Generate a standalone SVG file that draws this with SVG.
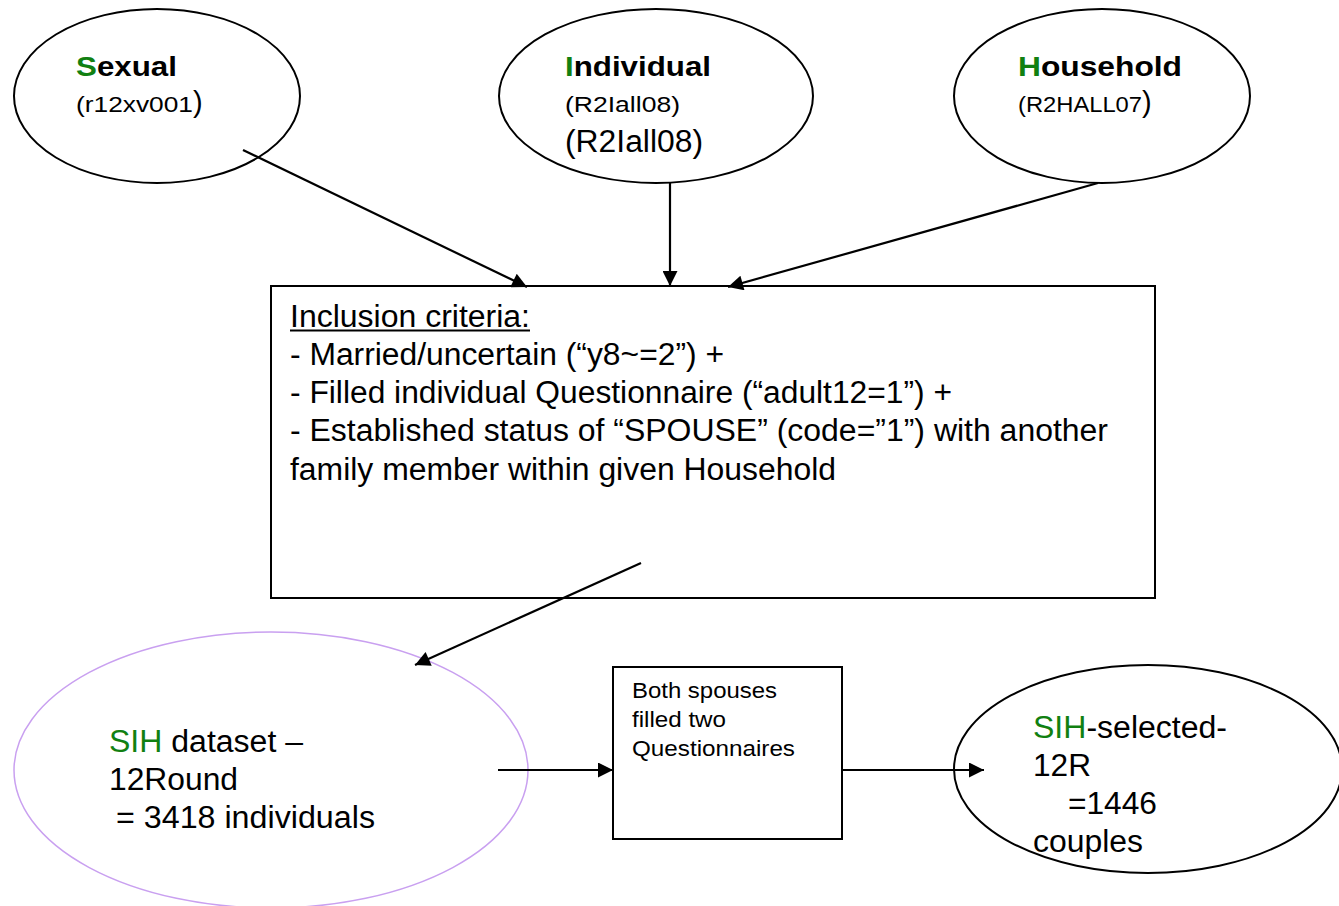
<svg xmlns="http://www.w3.org/2000/svg" width="1339" height="906" viewBox="0 0 1339 906">
<style>
text{font-family:"Liberation Sans",Arial,sans-serif;fill:#000}
.node{fill:#fff;stroke:#000;stroke-width:2}
.t{font-size:28px;font-weight:bold}
.s{font-size:22px}
.m{font-size:31px}
.ms{font-size:22px}
.g{fill:#118011}
.c line{stroke:#000;stroke-width:2.2}
</style>
<defs>
<marker id="ah" viewBox="0 0 10 10" refX="10" refY="5" markerWidth="20" markerHeight="15" markerUnits="userSpaceOnUse" orient="auto"><path d="M0,0 L10,5 L0,10 z" fill="#000"/></marker>
</defs>
<rect width="1339" height="906" fill="#fff"/>
<g id="sexual">
<ellipse class="node" cx="157" cy="96" rx="143" ry="87"/>
<text x="76" y="76" class="t" textLength="101" lengthAdjust="spacingAndGlyphs"><tspan class="g">S</tspan>exual</text>
<text x="76" y="112" class="s"><tspan textLength="117" lengthAdjust="spacingAndGlyphs">(r12xv001</tspan><tspan font-size="29">)</tspan></text>
</g>
<g id="individual">
<ellipse class="node" cx="656" cy="96" rx="157" ry="87"/>
<text x="565" y="76" class="t" textLength="146" lengthAdjust="spacingAndGlyphs"><tspan class="g">I</tspan>ndividual</text>
<text x="565" y="112" class="s" textLength="115" lengthAdjust="spacingAndGlyphs">(R2Iall08)</text>
<text x="565" y="152" class="m" textLength="138" lengthAdjust="spacingAndGlyphs">(R2Iall08)</text>
</g>
<g id="household">
<ellipse class="node" cx="1102" cy="96" rx="148" ry="87"/>
<text x="1018" y="76" class="t" textLength="164" lengthAdjust="spacingAndGlyphs"><tspan class="g">H</tspan>ousehold</text>
<text x="1018" y="112" class="s"><tspan textLength="124" lengthAdjust="spacingAndGlyphs">(R2HALL07</tspan><tspan font-size="29">)</tspan></text>
</g>
<g id="criteria">
<rect class="node" x="271" y="286" width="884" height="312"/>
<text x="290" y="327" class="m" textLength="240" lengthAdjust="spacingAndGlyphs">Inclusion criteria:</text>
<line x1="290" y1="330.5" x2="530" y2="330.5" stroke="#000" stroke-width="2"/>
<text x="290" y="365" class="m" textLength="434" lengthAdjust="spacingAndGlyphs">- Married/uncertain (“y8~=2”) +</text>
<text x="290" y="403" class="m" textLength="662" lengthAdjust="spacingAndGlyphs">- Filled individual Questionnaire (“adult12=1”) +</text>
<text x="290" y="441" class="m" textLength="818" lengthAdjust="spacingAndGlyphs">- Established status of “SPOUSE” (code=”1”) with another</text>
<text x="290" y="480" class="m" textLength="546" lengthAdjust="spacingAndGlyphs">family member within given Household</text>
</g>
<g id="sih">
<ellipse cx="271" cy="770" rx="257" ry="138" fill="#fff" stroke="#c9a0f0" stroke-width="1.5"/>
<text x="109" y="752" class="m" textLength="194" lengthAdjust="spacingAndGlyphs"><tspan class="g">SIH</tspan> dataset –</text>
<text x="109" y="790" class="m" textLength="129" lengthAdjust="spacingAndGlyphs">12Round</text>
<text x="116" y="828" class="m" textLength="259" lengthAdjust="spacingAndGlyphs">= 3418 individuals</text>
</g>
<g id="both">
<rect class="node" x="613" y="667" width="229" height="172"/>
<text x="632" y="698" class="ms" textLength="145" lengthAdjust="spacingAndGlyphs">Both spouses</text>
<text x="632" y="727" class="ms" textLength="94" lengthAdjust="spacingAndGlyphs">filled two</text>
<text x="632" y="756" class="ms" textLength="163" lengthAdjust="spacingAndGlyphs">Questionnaires</text>
</g>
<g id="selected">
<ellipse class="node" cx="1148" cy="769" rx="194" ry="104"/>
<text x="1033" y="738" class="m" textLength="194" lengthAdjust="spacingAndGlyphs"><tspan class="g">SIH</tspan>-selected-</text>
<text x="1033" y="776" class="m" textLength="58" lengthAdjust="spacingAndGlyphs">12R</text>
<text x="1068" y="814" class="m" textLength="89" lengthAdjust="spacingAndGlyphs">=1446</text>
<text x="1033" y="852" class="m" textLength="110" lengthAdjust="spacingAndGlyphs">couples</text>
</g>
<g id="connectors" class="c">
<line x1="243" y1="150" x2="527" y2="287" marker-end="url(#ah)"/>
<line x1="670" y1="183" x2="670" y2="286" marker-end="url(#ah)"/>
<line x1="1098" y1="183" x2="728" y2="287" marker-end="url(#ah)"/>
<line x1="641" y1="563" x2="415" y2="665" marker-end="url(#ah)"/>
<line x1="498" y1="770" x2="613" y2="770" marker-end="url(#ah)"/>
<line x1="842" y1="770" x2="984" y2="770" marker-end="url(#ah)"/>
</g>
</svg>
